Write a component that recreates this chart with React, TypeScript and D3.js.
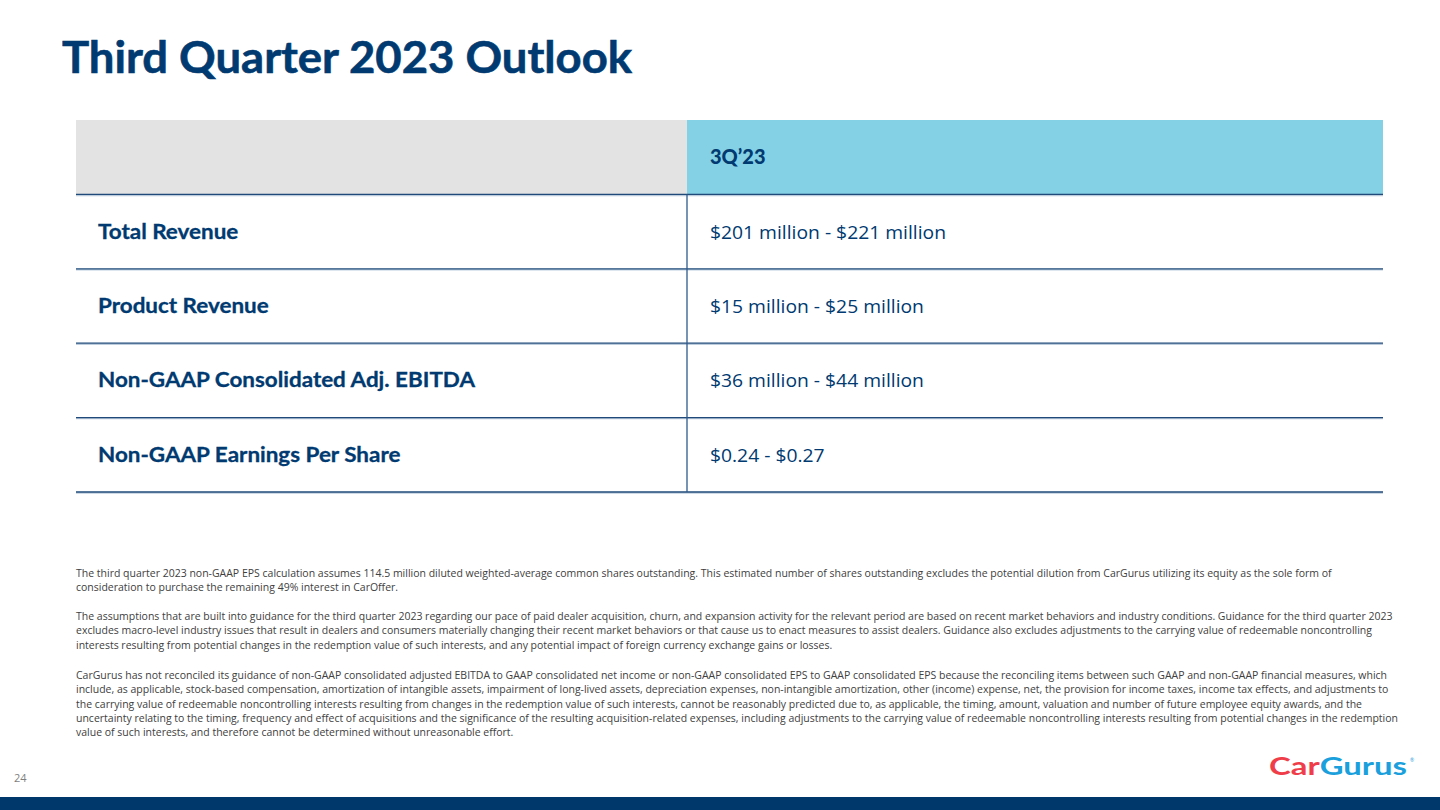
import React, { useEffect, useRef } from "react";
import * as d3 from "d3";

const title = "Third Quarter 2023 Outlook";
const headerLabel = "3Q\u201923";
const metrics = [
  "Total Revenue",
  "Product Revenue",
  "Non-GAAP Consolidated Adj. EBITDA",
  "Non-GAAP Earnings Per Share",
];
const outlook = [
  "$201 million - $221 million",
  "$15 million - $25 million",
  "$36 million - $44 million",
  "$0.24 - $0.27",
];
const footnote1 = [
  "The third quarter 2023 non-GAAP EPS calculation assumes 114.5 million diluted weighted-average common shares outstanding. This estimated number of shares outstanding excludes the potential dilution from CarGurus utilizing its equity as the sole form of",
  "consideration to purchase the remaining 49% interest in CarOffer.",
];
const footnote2 = [
  "The assumptions that are built into guidance for the third quarter 2023 regarding our pace of paid dealer acquisition, churn, and expansion activity for the relevant period are based on recent market behaviors and industry conditions. Guidance for the third quarter 2023",
  "excludes macro-level industry issues that result in dealers and consumers materially changing their recent market behaviors or that cause us to enact measures to assist dealers. Guidance also excludes adjustments to the carrying value of redeemable noncontrolling",
  "interests resulting from potential changes in the redemption value of such interests, and any potential impact of foreign currency exchange gains or losses.",
];
const footnote3 = [
  "CarGurus has not reconciled its guidance of non-GAAP consolidated adjusted EBITDA to GAAP consolidated net income or non-GAAP consolidated EPS to GAAP consolidated EPS because the reconciling items between such GAAP and non-GAAP financial measures, which",
  "include, as applicable, stock-based compensation, amortization of intangible assets, impairment of long-lived assets, depreciation expenses, non-intangible amortization, other (income) expense, net, the provision for income taxes, income tax effects, and adjustments to",
  "the carrying value of redeemable noncontrolling interests resulting from changes in the redemption value of such interests, cannot be reasonably predicted due to, as applicable, the timing, amount, valuation and number of future employee equity awards, and the",
  "uncertainty relating to the timing, frequency and effect of acquisitions and the significance of the resulting acquisition-related expenses, including adjustments to the carrying value of redeemable noncontrolling interests resulting from potential changes in the redemption",
  "value of such interests, and therefore cannot be determined without unreasonable effort.",
];
const pageNumber = "24";

const NAVY = "#003A70";

export default function App() {
  const ref = useRef<SVGSVGElement | null>(null);

  useEffect(() => {
    const svg = d3.select(ref.current);
    svg.selectAll("*").remove();

    // Title
    svg
      .append("text")
      .attr("x", 62)
      .attr("y", 73)
      .attr("font-family", "Lato")
      .attr("font-weight", 700)
      .attr("font-size", 44)
      .attr("fill", NAVY)
      .attr("stroke", NAVY)
      .attr("stroke-width", 0.6)
      .attr("textLength", 570)
      .attr("lengthAdjust", "spacingAndGlyphs")
      .text(title);

    // Table scales
    const rows = ["header", ...metrics];
    const y = d3.scaleBand<string>().domain(rows).range([120, 492]).padding(0);
    const xLeft = 76, xMid = 687, xRight = 1383;

    // header backgrounds
    svg.append("rect").attr("x", xLeft).attr("y", y("header")!).attr("width", xMid - xLeft)
      .attr("height", y.bandwidth()).attr("fill", "#E3E3E3");
    svg.append("rect").attr("x", xMid).attr("y", y("header")!).attr("width", xRight - xMid)
      .attr("height", y.bandwidth()).attr("fill", "#84D0E5");

    svg.append("text")
      .attr("x", 710)
      .attr("y", y("header")! + y.bandwidth() / 2 + 7)
      .attr("font-family", "Lato")
      .attr("font-weight", 900)
      .attr("font-size", 20)
      .attr("fill", NAVY)
      .text(headerLabel);

    // horizontal lines
    rows.forEach((r) => {
      const yy = y(r)! + y.bandwidth();
      svg.append("line").attr("x1", xLeft).attr("x2", xRight).attr("y1", yy + 1).attr("y2", yy + 1)
        .attr("stroke", "#BCCCDD").attr("stroke-width", 1.5);
      svg.append("line").attr("x1", xLeft).attr("x2", xRight).attr("y1", yy).attr("y2", yy)
        .attr("stroke", "#1F4A7A").attr("stroke-width", 1.3);
    });
    // vertical line
    svg.append("line").attr("x1", xMid).attr("x2", xMid)
      .attr("y1", y(metrics[0])!).attr("y2", 492)
      .attr("stroke", "#2F5A8A").attr("stroke-width", 1.3);

    // row labels
    const labels = svg.selectAll("text.metric").data(metrics).enter().append("text")
      .attr("class", "metric")
      .attr("x", 98)
      .attr("y", (d) => y(d)! + y.bandwidth() / 2 + 7)
      .attr("font-family", "Lato")
      .attr("font-weight", 700)
      .attr("font-size", 20.5)
      .attr("fill", NAVY)
      .attr("stroke", NAVY)
      .attr("stroke-width", 0.3)
      .text((d) => d);
    const labelLens = labels.nodes().map((n) => (n as SVGTextElement).getComputedTextLength());
    const lScale = 377 / (d3.max(labelLens) || 1);
    labels.each(function (_d, i) {
      d3.select(this as SVGTextElement)
        .attr("textLength", labelLens[i] * lScale)
        .attr("lengthAdjust", "spacingAndGlyphs");
    });

    // values
    const vals = svg.selectAll("text.val").data(outlook).enter().append("text")
      .attr("class", "val")
      .attr("x", 710)
      .attr("y", (_d, i) => y(metrics[i])! + y.bandwidth() / 2 + 7)
      .attr("font-family", "Open Sans")
      .attr("font-size", 19)
      .attr("fill", NAVY)
      .text((d) => d);
    const firstLen = (vals.nodes()[0] as SVGTextElement).getComputedTextLength();
    const vScale = 236 / firstLen;
    vals.each(function () {
      const n = this as SVGTextElement;
      const l = n.getComputedTextLength();
      d3.select(n).attr("textLength", l * vScale).attr("lengthAdjust", "spacingAndGlyphs");
    });

    // footnotes
    const paras = [
      { lines: footnote1, top: 577 },
      { lines: footnote2, top: 620 },
      { lines: footnote3, top: 679 },
    ];
    const fnNodes: SVGTextElement[] = [];
    paras.forEach((p) => {
      p.lines.forEach((line, i) => {
        const n = svg.append("text")
          .attr("x", 76)
          .attr("y", p.top + i * 14.3)
          .attr("font-family", "Open Sans")
          .attr("font-size", 10.5)
          .attr("fill", "#404040")
          .text(line);
        fnNodes.push(n.node() as SVGTextElement);
      });
    });
    const longest = fnNodes[fnNodes.length - 2].getComputedTextLength();
    const fScale = 1322 / longest;
    fnNodes.forEach((n) => {
      const l = n.getComputedTextLength();
      d3.select(n).attr("textLength", l * fScale).attr("lengthAdjust", "spacingAndGlyphs");
    });

    // page number
    svg.append("text").attr("x", 14).attr("y", 782).attr("font-family", "Open Sans")
      .attr("font-size", 11).attr("fill", "#7F7F7F").text(pageNumber);

    // logo
    const logo = svg.append("text").attr("x", 1269).attr("y", 775)
      .attr("font-family", "Lato").attr("font-weight", 700).attr("font-size", 25)
      .attr("textLength", 138).attr("lengthAdjust", "spacingAndGlyphs");
    logo.append("tspan").attr("fill", "#EF3E4A").text("Car");
    logo.append("tspan").attr("fill", "#1AA0DC").text("Gurus");
    svg.append("text").attr("x", 1410).attr("y", 762).attr("font-family", "Lato")
      .attr("font-size", 5).attr("fill", "#1AA0DC").text("\u00AE");

    // bottom bar
    svg.append("rect").attr("x", 0).attr("y", 797).attr("width", 1440).attr("height", 13)
      .attr("fill", "#00386C");
  }, []);

  return (
    <svg
      ref={ref}
      width={1440}
      height={810}
      style={{ position: "fixed", left: 0, top: 0, background: "#fff" }}
    />
  );
}
